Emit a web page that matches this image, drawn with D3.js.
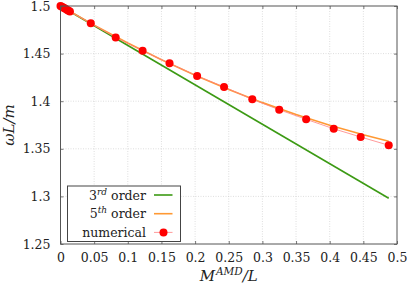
<!DOCTYPE html>
<html>
<head>
<meta charset="utf-8">
<script src="https://cdn.jsdelivr.net/npm/d3@7"></script>
<style>
  body { margin: 0; background: #fff; }
  svg text { font-family: "DejaVu Serif", "Liberation Serif", serif; fill: #222; }
</style>
</head>
<body>
<div id="chart"></div>
<script>
// Data
let xTicks = [0, 0.05, 0.1, 0.15, 0.2, 0.25, 0.3, 0.35, 0.4, 0.45, 0.5];
let yTicks = [1.25, 1.3, 1.35, 1.4, 1.45, 1.5];

// 3rd order (straight line)
let m3 = [0, 0.4877];
let w3 = [1.5, 1.298];

// 5th order
let m5 = [0, 0.05, 0.1, 0.15, 0.2, 0.25, 0.3, 0.35, 0.4, 0.45, 0.4877];
let w5 = [1.5, 1.4799, 1.4611, 1.4436, 1.4273, 1.4123, 1.3985, 1.386, 1.3747, 1.3647, 1.358];

// numerical
let mNum = [0, 0.002, 0.004, 0.006, 0.008, 0.010, 0.012, 0.014,
    0.045, 0.082, 0.122, 0.162, 0.203, 0.243, 0.285, 0.325, 0.365, 0.406, 0.446, 0.4877];
let wNum = [1.5, 1.4992, 1.4984, 1.4976, 1.4968, 1.4959, 1.4951, 1.4943,
    1.4818, 1.467, 1.453, 1.4398, 1.4265, 1.415, 1.402, 1.391, 1.381, 1.371, 1.3624, 1.3537];

let svgWidth = 407;
let svgHeight = 285;
let serif = "'DejaVu Serif', 'Liberation Serif', serif";

let margin = { top: 6, right: 10, bottom: 41, left: 60.5 };
let width = 397 - margin.left;
let height = 244 - margin.top;

let svg = d3.select("#chart")
    .append("svg")
    .attr("width", svgWidth)
    .attr("height", svgHeight);

let chartGroup = svg.append("g")
    .attr("transform", `translate(${margin.left}, ${margin.top})`);

let xScale = d3.scaleLinear().domain([0, 0.5]).range([0, width]);
let yScale = d3.scaleLinear().domain([1.25, 1.5]).range([height, 0]);

// grid
chartGroup.append("g")
    .selectAll("line")
    .data(xTicks.slice(1, -1))
    .join("line")
    .attr("x1", d => xScale(d)).attr("x2", d => xScale(d))
    .attr("y1", 0).attr("y2", height)
    .attr("stroke", "#c8c8c8")
    .attr("stroke-width", 0.6)
    .attr("stroke-dasharray", "1,1.5");

chartGroup.append("g")
    .selectAll("line")
    .data(yTicks.slice(1, -1))
    .join("line")
    .attr("y1", d => yScale(d)).attr("y2", d => yScale(d))
    .attr("x1", 0).attr("x2", width)
    .attr("stroke", "#c8c8c8")
    .attr("stroke-width", 0.6)
    .attr("stroke-dasharray", "1,1.5");

let line = d3.line()
    .x(d => xScale(d[0]))
    .y(d => yScale(d[1]));

// 3rd order
chartGroup.append("path")
    .datum(d3.zip(m3, w3))
    .attr("d", line)
    .attr("fill", "none")
    .attr("stroke", "#3c9a14")
    .attr("stroke-width", 1.6);

// 5th order
chartGroup.append("path")
    .datum(d3.zip(m5, w5))
    .attr("d", line)
    .attr("fill", "none")
    .attr("stroke", "#ff9933")
    .attr("stroke-width", 1.6);

// numerical
let numData = d3.zip(mNum, wNum);
chartGroup.append("path")
    .datum(numData)
    .attr("d", line)
    .attr("fill", "none")
    .attr("stroke", "#ff8080")
    .attr("stroke-width", 0.8);

chartGroup.append("g")
    .selectAll("circle")
    .data(numData)
    .join("circle")
    .attr("cx", d => xScale(d[0]))
    .attr("cy", d => yScale(d[1]))
    .attr("r", 4)
    .attr("fill", "#ff0000");

// axes with inward ticks on all sides
let tickLen = 3;
let axisColor = "#555";

let bottomAxis = d3.axisBottom(xScale).tickValues(xTicks).tickSize(-tickLen).tickPadding(9)
    .tickFormat(d => d3.format("")(d));
let topAxis = d3.axisTop(xScale).tickValues(xTicks).tickSize(-tickLen).tickFormat("");
let leftAxis = d3.axisLeft(yScale).tickValues(yTicks).tickSize(-tickLen).tickPadding(10)
    .tickFormat(d => d3.format("")(d));
let rightAxis = d3.axisRight(yScale).tickValues(yTicks).tickSize(-tickLen).tickFormat("");

function styleAxis(g) {
    g.attr("font-family", null).attr("font-size", null);
    g.select(".domain").remove();
    g.selectAll(".tick line").attr("stroke", axisColor).attr("stroke-width", 0.8);
    g.selectAll(".tick text").style("font-size", "12.5px").attr("fill", "#222")
        .style("font-family", serif);
}

chartGroup.append("g").attr("transform", `translate(0, ${height})`).call(bottomAxis).call(styleAxis);
chartGroup.append("g").call(topAxis).call(styleAxis);
chartGroup.append("g").call(leftAxis).call(styleAxis);
chartGroup.append("g").attr("transform", `translate(${width}, 0)`).call(rightAxis).call(styleAxis);

// frame
chartGroup.append("rect")
    .attr("width", width).attr("height", height)
    .attr("fill", "none")
    .attr("stroke", axisColor)
    .attr("stroke-width", 1);

// axis labels
let xLabel = svg.append("text")
    .attr("x", margin.left + width / 2)
    .attr("y", 281)
    .attr("text-anchor", "middle")
    .style("font-family", serif)
    .style("font-size", "15px")
    .style("font-style", "italic");
xLabel.append("tspan").text("M");
xLabel.append("tspan").attr("dy", -6).attr("dx", 1).style("font-size", "10.5px").text("AMD");
xLabel.append("tspan").attr("dy", 6).text("/L");

svg.append("text")
    .attr("transform", `translate(14, ${margin.top + height / 2}) rotate(-90)`)
    .attr("text-anchor", "middle")
    .style("font-family", serif)
    .style("font-size", "15px")
    .style("font-style", "italic")
    .text("ωL/m");

// legend
let legend = svg.append("g").attr("transform", "translate(67.5, 186)");
legend.append("rect")
    .attr("width", 113).attr("height", 55.5)
    .attr("fill", "#fff")
    .attr("stroke", "#444")
    .attr("stroke-width", 1);

let legendItems = [
    { label: ["3", "rd", " order"], color: "#3c9a14", dot: false },
    { label: ["5", "th", " order"], color: "#ff9933", dot: false },
    { label: ["numerical"], color: "#ff8080", dot: true }
];

legendItems.forEach((item, i) => {
    let cy = 9 + i * 18.7;
    let t = legend.append("text")
        .attr("x", 78.5)
        .attr("y", cy + 4.5)
        .attr("text-anchor", "end")
        .style("font-family", serif)
        .style("font-size", "12.5px");
    if (item.label.length > 1) {
        t.append("tspan").text(item.label[0]);
        t.append("tspan").attr("dy", -5).style("font-size", "9px").style("font-style", "italic").text(item.label[1]);
        t.append("tspan").attr("dy", 5).text(item.label[2]);
    } else {
        t.text(item.label[0]);
    }
    legend.append("line")
        .attr("x1", 86.5).attr("x2", 105)
        .attr("y1", cy).attr("y2", cy)
        .attr("stroke", item.color)
        .attr("stroke-width", item.dot ? 0.8 : 1.6);
    if (item.dot) {
        legend.append("circle")
            .attr("cx", 96).attr("cy", cy)
            .attr("r", 4)
            .attr("fill", "#ff0000");
    }
});
</script>
</body>
</html>
